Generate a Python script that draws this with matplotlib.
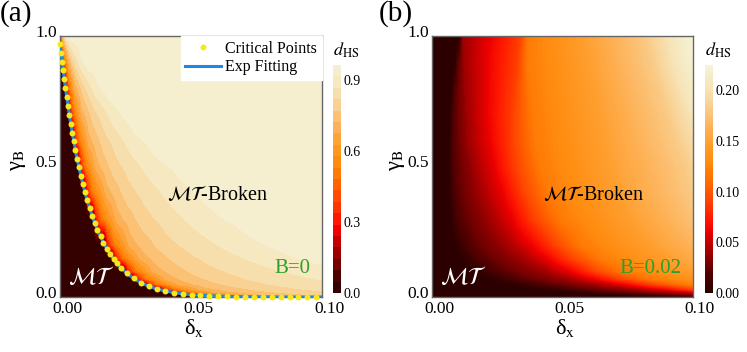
import numpy as np
import matplotlib
matplotlib.use('Agg')
import matplotlib.pyplot as plt
from matplotlib.colors import LinearSegmentedColormap
from matplotlib.transforms import ScaledTranslation

plt.rcParams['font.family'] = ['Liberation Serif', 'DejaVu Serif']
plt.rcParams['mathtext.fontset'] = 'stix'

# ---- panel (a): B = 0 ----
# critical points read off the boundary
crit_delta = [0.0, 0.0004, 0.0008, 0.0012, 0.0016, 0.0021, 0.0026, 0.003, 0.0036, 0.0041,
              0.0047, 0.0053, 0.0059, 0.0065, 0.0072, 0.0079, 0.0087, 0.0095, 0.0104, 0.0113,
              0.0123, 0.0133, 0.0143, 0.0155, 0.0166, 0.0178, 0.0191, 0.0205, 0.0218, 0.0232,
              0.0256, 0.0282, 0.0309, 0.0338, 0.0369, 0.0401, 0.0434, 0.0468, 0.0502, 0.0536,
              0.057, 0.0604, 0.0638, 0.0672, 0.0706, 0.074, 0.0774, 0.0808, 0.0842, 0.0876,
              0.091, 0.0944, 0.0978]
crit_gamma = [0.97, 0.936, 0.902, 0.868, 0.834, 0.80, 0.766, 0.732, 0.698, 0.664,
              0.63, 0.596, 0.563, 0.53, 0.497, 0.465, 0.433, 0.402, 0.371, 0.341,
              0.312, 0.284, 0.257, 0.232, 0.208, 0.186, 0.165, 0.146, 0.129, 0.113,
              0.0907, 0.0713, 0.0555, 0.0424, 0.0318, 0.0237, 0.0174, 0.0127, 0.0093, 0.0068,
              0.0049, 0.0036, 0.0026, 0.0019, 0.0014, 0.0011, 0.0008, 0.0006, 0.0004, 0.0003,
              0.0002, 0.00015, 0.0001]

# d_HS levels and the delta where each row reaches them
a_levels = [0.0, 0.3, 0.5, 0.7, 0.8, 0.9, 0.95, 0.963]
a_rows = [0.0, 0.002, 0.005, 0.01, 0.02, 0.03, 0.05, 0.07, 0.1, 0.15, 0.2,
          0.3, 0.4, 0.5, 0.6, 0.7, 0.8, 0.9, 1.0]
a_pos = [
    [0.15, 0.16, 0.17, 0.18, 0.19, 0.2, 0.21, 0.22],
    [0.067, 0.074, 0.081, 0.097, 0.14, 0.26, 0.34, 0.55],
    [0.057, 0.062, 0.068, 0.082, 0.12, 0.23, 0.30, 0.50],
    [0.049, 0.053, 0.058, 0.070, 0.105, 0.20, 0.26, 0.45],
    [0.042, 0.045, 0.049, 0.060, 0.090, 0.17, 0.22, 0.40],
    [0.0375, 0.040, 0.044, 0.054, 0.080, 0.15, 0.20, 0.35],
    [0.032, 0.034, 0.037, 0.046, 0.068, 0.13, 0.17, 0.30],
    [0.0284, 0.030, 0.033, 0.041, 0.061, 0.115, 0.15, 0.27],
    [0.0245, 0.026, 0.029, 0.036, 0.054, 0.10, 0.13, 0.25],
    [0.0202, 0.0215, 0.0242, 0.031, 0.046, 0.082, 0.11, 0.22],
    [0.0171, 0.0183, 0.0208, 0.027, 0.040, 0.070, 0.098, 0.20],
    [0.0127, 0.0138, 0.016, 0.022, 0.032, 0.055, 0.080, 0.16],
    [0.0096, 0.0106, 0.0125, 0.018, 0.026, 0.045, 0.066, 0.14],
    [0.0072, 0.0081, 0.0098, 0.014, 0.021, 0.036, 0.055, 0.12],
    [0.0052, 0.006, 0.0075, 0.011, 0.017, 0.028, 0.040, 0.10],
    [0.0035, 0.0043, 0.0056, 0.0085, 0.013, 0.021, 0.029, 0.08],
    [0.0021, 0.0028, 0.0038, 0.006, 0.009, 0.014, 0.019, 0.06],
    [0.0008, 0.0013, 0.002, 0.0035, 0.005, 0.008, 0.011, 0.04],
    [0.0, 0.0002, 0.0005, 0.001, 0.0015, 0.0025, 0.004, 0.02],
]

# ---- panel (b): B = 0.02 ----
b_levels = [0.0, 0.02, 0.04, 0.06, 0.09, 0.12, 0.15, 0.18, 0.225]
b_rows = [0.0, 0.01, 0.02, 0.03, 0.05, 0.07, 0.1, 0.15, 0.2,
          0.3, 0.4, 0.5, 0.6, 0.7, 0.8, 0.9, 1.0]
b_pos = [
    [0.095, 0.13, 0.16, 0.18, 0.20, 0.22, 0.26, 0.30, 0.33],
    [0.068, 0.088, 0.11, 0.125, 0.14, 0.16, 0.20, 0.23, 0.26],
    [0.052, 0.070, 0.090, 0.102, 0.115, 0.13, 0.17, 0.20, 0.23],
    [0.042, 0.058, 0.078, 0.089, 0.10, 0.115, 0.15, 0.18, 0.21],
    [0.030, 0.044, 0.062, 0.073, 0.084, 0.098, 0.13, 0.16, 0.19],
    [0.022, 0.034, 0.052, 0.062, 0.072, 0.085, 0.115, 0.14, 0.17],
    [0.016, 0.026, 0.043, 0.053, 0.062, 0.074, 0.102, 0.13, 0.16],
    [0.011, 0.019, 0.034, 0.044, 0.053, 0.065, 0.093, 0.12, 0.15],
    [0.0085, 0.015, 0.028, 0.038, 0.047, 0.058, 0.086, 0.115, 0.14],
    [0.0068, 0.011, 0.022, 0.031, 0.039, 0.050, 0.078, 0.105, 0.13],
    [0.0063, 0.0095, 0.018, 0.027, 0.035, 0.045, 0.073, 0.10, 0.125],
    [0.0063, 0.0088, 0.016, 0.024, 0.032, 0.042, 0.070, 0.097, 0.12],
    [0.0065, 0.0085, 0.014, 0.022, 0.031, 0.040, 0.068, 0.093, 0.115],
    [0.007, 0.0085, 0.0135, 0.021, 0.031, 0.039, 0.066, 0.09, 0.11],
    [0.0078, 0.009, 0.013, 0.021, 0.032, 0.038, 0.064, 0.087, 0.105],
    [0.009, 0.010, 0.0125, 0.021, 0.033, 0.037, 0.062, 0.084, 0.102],
    [0.0105, 0.0112, 0.012, 0.022, 0.034, 0.037, 0.060, 0.082, 0.10],
]

cmap = LinearSegmentedColormap.from_list('dhs', [
    (0.0, '#2a0000'), (0.08, '#500000'), (0.18, '#a00000'), (0.27, '#ee0000'),
    (0.33, '#ff1a00'), (0.42, '#ff4a00'), (0.5, '#ff7000'), (0.58, '#ff8c10'),
    (0.66, '#ff9f30'), (0.74, '#fdb55e'), (0.82, '#f9cf8f'), (0.9, '#f6e4b8'),
    (1.0, '#f5f3d6')])

dx = np.linspace(0, 0.1, 500)
Fa = np.array([np.interp(dx, p, a_levels) for p in a_pos])
Fb = np.array([np.interp(dx, p, b_levels) for p in b_pos])

fig = plt.figure(figsize=(7.47, 3.52), dpi=100)
axa = fig.add_axes([0.0803, 0.156, 0.3508, 0.742])
caxa = fig.add_axes([0.4458, 0.1676, 0.0107, 0.6477])
axb = fig.add_axes([0.5783, 0.156, 0.3494, 0.742])
caxb = fig.add_axes([0.9438, 0.1676, 0.0107, 0.6477])

csa = axa.contourf(dx, a_rows, Fa, levels=np.linspace(0, 0.963, 21), cmap=cmap)
csb = axb.contourf(dx, b_rows, Fb, levels=np.linspace(0, 0.225, 120), cmap=cmap)

# exp fit of the critical points
w = np.array(crit_gamma) > 0.005
cd = np.array(crit_delta)[w]
cg = np.array(crit_gamma)[w]
k, b0 = np.polyfit(cd, np.log(cg), 1)
xf = np.linspace(0, 0.1, 300)
axa.plot(xf, np.exp(b0 + k * xf), color='#1e88e5', lw=2.2, label='Exp Fitting', zorder=3)
axa.plot(crit_delta, crit_gamma, 'o', color='#f7e81a', ms=4.3, mec='none',
         label='Critical Points', zorder=4, clip_on=False)

h, l = axa.get_legend_handles_labels()
leg = axa.legend(h[::-1], l[::-1], loc='upper right', fontsize=11.5, borderaxespad=0,
                 fancybox=False, framealpha=1, facecolor='white', edgecolor='white',
                 handlelength=2.2, handletextpad=0.3, borderpad=0.3, labelspacing=0.15,
                 numpoints=1)

for ax, cax, cs, ticks, fmt, btxt, yl, bx in [
        (axa, caxa, csa, [0, 0.3, 0.6, 0.9], '%.1f', 'B=0', -0.122, 0.041),
        (axb, caxb, csb, [0, 0.05, 0.1, 0.15, 0.2], '%.2f', 'B=0.02', -0.096, 0.0425)]:
    ax.set_xlim(0, 0.1)
    ax.set_ylim(0, 1.0)
    ax.set_xticks([0, 0.05, 0.1])
    ax.set_xticklabels(['0.00', '0.05', '0.10'])
    ax.set_yticks([0, 0.5, 1.0])
    ax.set_yticklabels(['0.0', '0.5', '1.0'])
    ax.tick_params(length=0, labelsize=12.5, pad=3)
    ax.tick_params(axis='y', pad=2)
    for s in ax.spines.values():
        s.set_color('#666666')
        s.set_linewidth(1.0)
    ax.set_xlabel('δ$_{\\rm x}$', fontsize=16)
    ax.set_ylabel('γ$_{\\rm B}$', fontsize=16)
    ax.xaxis.set_label_coords(0.51, -0.075)
    ax.yaxis.set_label_coords(yl, 0.525)
    ax.text(bx, 0.39, r'$\mathcal{MT}$-Broken', fontsize=14.5, va='center', ha='left')
    ax.text(0.003, 0.073, r'$\mathcal{MT}$', fontsize=17, va='center', ha='left', color='white')
    ax.text(0.0955, 0.11, btxt, fontsize=15, va='center', ha='right', color='#2ca02c')

    cb = fig.colorbar(cs, cax=cax, ticks=ticks, format=fmt)
    cb.outline.set_visible(False)
    cax.tick_params(length=0, labelsize=10, pad=2)

    off = ScaledTranslation(0.07, 0, fig.dpi_scale_trans)
    for lab in ax.get_xticklabels():
        lab.set_transform(lab.get_transform() + off)
    off = ScaledTranslation(0, 0.05, fig.dpi_scale_trans)
    for lab in ax.get_yticklabels():
        lab.set_transform(lab.get_transform() + off)

fig.text(333 / 747, 1 - 50 / 352, r'$d_{\rm HS}$', fontsize=13, va='center', ha='left')
fig.text(705 / 747, 1 - 50 / 352, r'$d_{\rm HS}$', fontsize=13, va='center', ha='left')
fig.text(0.0, 1.0, '(a)', fontsize=21, va='top', ha='left')
fig.text(379 / 747, 1.0, '(b)', fontsize=21, va='top', ha='left')

fig.savefig('out.png', dpi=100)
